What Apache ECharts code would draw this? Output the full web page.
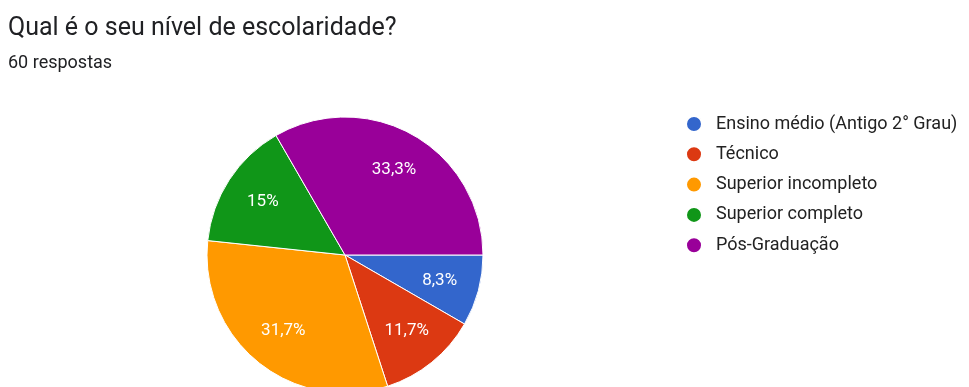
<!DOCTYPE html>
<html>
<head>
<meta charset="utf-8">
<script src="https://cdn.jsdelivr.net/npm/echarts@6/dist/echarts.min.js"></script>
<style>
  html, body { margin: 0; padding: 0; background: #fff; }
  #chart { width: 969px; height: 387px; }
</style>
</head>
<body>
<div id="chart"></div>
<script>
// Survey answers: education level (60 responses)
const categories = [
  'Ensino médio (Antigo 2° Grau)',
  'Técnico',
  'Superior incompleto',
  'Superior completo',
  'Pós-Graduação'
];
const counts = [5, 7, 19, 9, 20];
const colors = ['#3366cc', '#dc3912', '#ff9900', '#109618', '#990099'];
const titleText = 'Qual é o seu nível de escolaridade?';
const subtitleText = '60 respostas';

const total = counts.reduce((a, b) => a + b, 0);
const pieData = categories.map((name, i) => ({ name, value: counts[i] }));

// Percentages with a comma as decimal separator, integers without decimals
function pct(value) {
  const p = Math.round(value / total * 1000) / 10;
  return (Number.isInteger(p) ? String(p) : p.toFixed(1).replace('.', ',')) + '%';
}

const font = 'Roboto, "Noto Sans", sans-serif';
const chart = echarts.init(document.getElementById('chart'));
chart.setOption({
  animation: false,
  color: colors,
  title: {
    text: titleText,
    subtext: subtitleText,
    left: 3,
    top: 11,
    itemGap: 13,
    textStyle: { fontFamily: font, fontSize: 25, fontWeight: 'normal', color: '#202124' },
    subtextStyle: { fontFamily: font, fontSize: 18, color: '#202124' }
  },
  legend: {
    orient: 'vertical',
    left: 680,
    top: 110,
    icon: 'circle',
    itemWidth: 16,
    itemHeight: 16,
    itemGap: 12.3,
    textStyle: { fontFamily: font, fontSize: 18, color: '#222', padding: [0, 0, 0, 9] },
    data: categories
  },
  series: [
    {
      type: 'pie',
      center: [345, 255],
      radius: [0, 138],
      startAngle: 0,
      clockwise: true,
      data: pieData,
      itemStyle: { borderColor: '#fff', borderWidth: 1 },
      label: { show: false },
      labelLine: { show: false },
      emphasis: { disabled: true }
    },
    {
      // transparent ring carrying the percentage labels at ~70% of the radius
      type: 'pie',
      center: [345, 255],
      radius: [52, 138],
      startAngle: 0,
      clockwise: true,
      silent: true,
      data: pieData,
      itemStyle: { color: 'rgba(0,0,0,0)', borderWidth: 0 },
      label: {
        show: true,
        position: 'inside',
        formatter: p => pct(p.value),
        color: '#fff',
        fontFamily: font,
        fontSize: 17
      },
      labelLine: { show: false },
      emphasis: { disabled: true },
      legendHoverLink: false
    }
  ]
});
</script>
</body>
</html>
